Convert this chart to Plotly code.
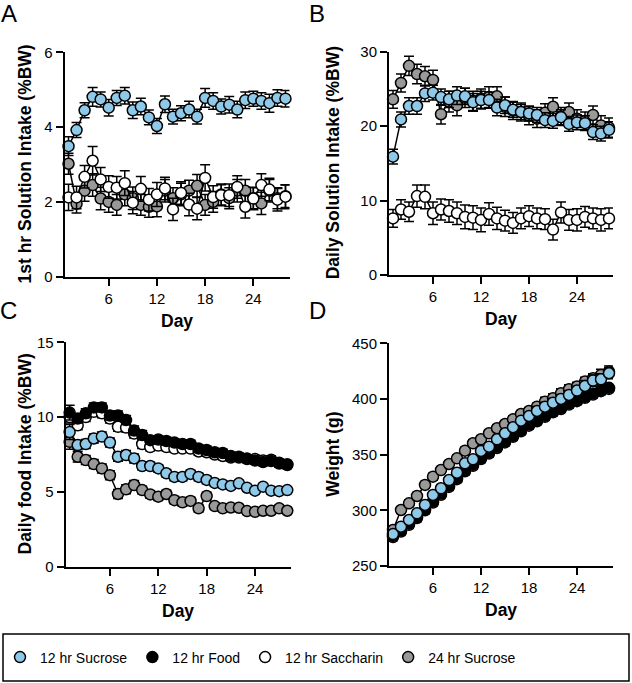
import plotly.graph_objects as go

W, H = 632, 683

days = list(range(1, 29))
x_ticks = [6, 12, 18, 24]

series_names = ["12 hr Sucrose", "12 hr Food", "12 hr Saccharin", "24 hr Sucrose"]
series_colors = {"12 hr Sucrose": "#8EC9E9", "12 hr Food": "#000000",
                 "12 hr Saccharin": "#FFFFFF", "24 hr Sucrose": "#999999"}

# Panel A: 1st hr solution intake (%BW)
a_sucrose12 = [3.49, 3.92, 4.45, 4.81, 4.74, 4.52, 4.78, 4.84, 4.45, 4.55, 4.26, 4.03, 4.61, 4.28,
               4.37, 4.47, 4.28, 4.78, 4.70, 4.55, 4.60, 4.47, 4.72, 4.76, 4.70, 4.64, 4.78, 4.76]
a_sucrose12_err = [0.25, 0.2, 0.2, 0.25, 0.2, 0.22, 0.2, 0.22, 0.22, 0.22, 0.2, 0.2, 0.22, 0.2,
                   0.2, 0.22, 0.2, 0.25, 0.22, 0.2, 0.22, 0.22, 0.22, 0.2, 0.22, 0.24, 0.22, 0.22]
a_saccharin12 = [2.12, 2.12, 2.67, 3.10, 2.60, 2.40, 2.38, 2.50, 1.98, 2.35, 2.06, 2.20, 2.36, 1.80,
                 2.24, 1.93, 1.82, 2.64, 2.13, 2.18, 2.18, 2.40, 1.87, 2.09, 2.45, 2.33, 2.06, 2.14]
a_saccharin12_err = [0.35, 0.3, 0.3, 0.38, 0.32, 0.3, 0.3, 0.33, 0.3, 0.33, 0.3, 0.32, 0.3, 0.3,
                     0.3, 0.3, 0.3, 0.35, 0.3, 0.28, 0.3, 0.3, 0.3, 0.3, 0.3, 0.3, 0.3, 0.32]
a_sucrose24 = [3.02, 1.95, 2.30, 2.45, 2.09, 2.00, 1.92, 2.20, 2.10, 1.92, 1.87, 1.88, 2.30, 2.10,
               2.20, 2.30, 2.43, 1.92, 2.00, 2.20, 2.10, 2.30, 2.30, 2.10, 1.96, 2.30, 2.10, 2.15]
a_sucrose24_err = [0.28, 0.25, 0.28, 0.3, 0.3, 0.28, 0.28, 0.3, 0.3, 0.28, 0.28, 0.28, 0.3, 0.28,
                   0.3, 0.28, 0.3, 0.28, 0.28, 0.28, 0.28, 0.3, 0.3, 0.28, 0.3, 0.3, 0.28, 0.3]

# Panel B: daily solution intake (%BW)
b_sucrose12 = [15.9, 20.9, 22.7, 22.7, 24.4, 24.5, 23.9, 23.6, 24.1, 24.0, 23.2, 23.5, 23.5, 22.5,
               22.8, 22.2, 21.9, 21.7, 21.5, 20.8, 20.7, 21.2, 20.3, 20.5, 20.4, 19.2, 19.0, 19.5]
b_sucrose12_err = [1.0, 1.0, 1.1, 1.1, 1.1, 1.0, 1.1, 1.1, 1.2, 1.1, 1.2, 1.2, 1.1, 1.1,
                   1.1, 1.0, 1.0, 1.0, 1.0, 1.0, 1.0, 1.0, 1.0, 1.0, 1.0, 1.0, 1.0, 1.1]
b_sucrose24 = [23.6, 25.8, 28.1, 27.0, 26.7, 26.2, 21.6, 23.3, 22.8, 23.8, 23.4, 23.7, 23.9, 24.0,
               22.6, 22.1, 21.9, 21.4, 21.0, 21.8, 22.6, 21.3, 21.9, 21.0, 20.7, 21.5, 20.1, 19.8]
b_sucrose24_err = [1.2, 1.2, 1.3, 1.3, 1.3, 1.3, 1.3, 1.4, 1.4, 1.3, 1.3, 1.3, 1.4, 1.3,
                   1.3, 1.2, 1.2, 1.2, 1.2, 1.2, 1.2, 1.2, 1.2, 1.2, 1.2, 1.2, 1.3, 1.3]
b_saccharin12 = [7.6, 8.8, 8.5, 10.6, 10.5, 8.3, 8.8, 8.6, 8.3, 7.8, 7.7, 7.4, 8.2, 7.6,
                 7.3, 7.0, 7.6, 7.9, 7.6, 7.5, 6.1, 8.4, 7.4, 7.4, 7.8, 7.6, 7.4, 7.6]
b_saccharin12_err = [1.2, 1.3, 1.3, 1.5, 1.6, 1.5, 1.4, 1.5, 1.5, 1.6, 1.6, 1.6, 1.5, 1.5,
                     1.4, 1.4, 1.4, 1.4, 1.4, 1.4, 1.4, 1.4, 1.4, 1.5, 1.4, 1.4, 1.5, 1.4]

# Panel C: daily food intake (%BW)
c_food12 = [10.3, 9.9, 10.25, 10.65, 10.65, 10.1, 10.1, 9.8, 9.1, 8.8, 8.46, 8.5, 8.4, 8.3,
            8.2, 8.2, 7.9, 7.8, 7.65, 7.6, 7.4, 7.35, 7.24, 7.1, 7.0, 7.06, 6.9, 6.8]
c_food12_err = [0.5, 0.3, 0.3, 0.3, 0.3, 0.3, 0.3, 0.3, 0.3, 0.3, 0.25, 0.25, 0.25, 0.25,
                0.25, 0.25, 0.25, 0.25, 0.25, 0.25, 0.25, 0.25, 0.25, 0.25, 0.25, 0.25, 0.25, 0.25]
c_saccharin12 = [10.0, 9.45, 10.0, 10.35, 10.25, 9.9, 9.35, 9.3, 8.9, 8.2, 8.0, 8.1, 8.0, 7.9,
                 7.9, 7.9, 7.7, 7.65, 7.5, 7.4, 7.3, 7.3, 7.2, 7.2, 7.1, 7.15, 6.95, 6.85]
c_saccharin12_err = [0.4, 0.3, 0.3, 0.3, 0.3, 0.3, 0.3, 0.3, 0.3, 0.3, 0.25, 0.25, 0.25, 0.25,
                     0.25, 0.25, 0.25, 0.25, 0.25, 0.25, 0.25, 0.25, 0.25, 0.25, 0.25, 0.25, 0.25, 0.25]
c_sucrose12 = [9.0, 8.13, 8.2, 8.57, 8.7, 8.3, 7.35, 7.46, 7.24, 6.73, 6.73, 6.57, 6.24, 6.0,
               6.0, 6.2, 6.0, 5.8, 5.6, 5.5, 5.4, 5.57, 5.28, 5.08, 5.35, 5.08, 5.05, 5.12]
c_sucrose12_err = [0.5, 0.3, 0.3, 0.3, 0.3, 0.3, 0.3, 0.3, 0.3, 0.25, 0.25, 0.25, 0.25, 0.25,
                   0.25, 0.25, 0.25, 0.25, 0.2, 0.2, 0.2, 0.2, 0.2, 0.2, 0.2, 0.2, 0.2, 0.2]
c_sucrose24 = [8.35, 7.35, 7.13, 6.86, 6.57, 6.12, 4.86, 5.17, 5.46, 5.12, 4.83, 4.68, 4.86, 4.45,
               4.3, 4.4, 3.9, 4.72, 4.05, 3.9, 3.96, 3.94, 3.72, 3.67, 3.74, 3.74, 3.9, 3.74]
c_sucrose24_err = [0.5, 0.35, 0.3, 0.3, 0.3, 0.3, 0.3, 0.3, 0.3, 0.25, 0.25, 0.25, 0.25, 0.25,
                   0.25, 0.25, 0.25, 0.25, 0.2, 0.2, 0.2, 0.2, 0.2, 0.2, 0.2, 0.2, 0.2, 0.2]

# Panel D: weight (g)
d_sucrose12 = [278.7, 285.3, 291.3, 297.3, 304.8, 313.8, 319.8, 327.2, 333.8, 342.2, 345.8, 353.3,
               357.2, 363.8, 369.2, 374.6, 380.5, 384.7, 389.2, 393.1, 396.7, 400.0, 403.6, 407.5,
               411.7, 416.5, 417.7, 423.1]
d_sucrose12_err = [3, 3, 3, 3, 3, 3, 3, 3, 3, 3, 3, 3, 3, 3, 3, 3, 3, 3, 4, 4, 4, 4, 4, 4, 5, 5, 5, 5]
d_sucrose24 = [282.3, 300.3, 306.3, 312.9, 322.8, 330.2, 336.2, 341.6, 346.7, 353.6, 360.2, 363.8,
               369.2, 373.7, 377.5, 381.7, 386.5, 389.2, 393.1, 397.6, 400.6, 405.1, 408.7, 411.1,
               415.6, 418.6, 421.6, 424.6]
d_sucrose24_err = [3, 3, 3, 3, 3, 3, 3, 3, 3, 3, 3, 3, 3, 3, 3, 3, 3, 3, 3, 4, 4, 4, 4, 4, 4, 4, 5, 5]
d_food12 = [277, 282, 288, 294, 301, 308, 315, 322, 329, 336, 341, 347, 352, 357,
            362, 367, 372, 377, 381, 385, 389, 392, 396, 399, 402, 405, 408, 410]
d_food12_err = [3, 3, 3, 3, 3, 3, 3, 3, 3, 3, 3, 3, 3, 3, 3, 3, 3, 3, 3, 3, 3, 3, 3, 3, 3, 3, 3, 3]
d_saccharin12 = [276, 281, 287, 293, 300, 307, 314, 321, 328, 335, 340, 346, 351, 356,
                 361, 366, 371, 376, 380, 384, 388, 391, 395, 398, 401, 404, 407, 409]
d_saccharin12_err = [3, 3, 3, 3, 3, 3, 3, 3, 3, 3, 3, 3, 3, 3, 3, 3, 3, 3, 3, 3, 3, 3, 3, 3, 3, 3, 3, 3]

FONT = "Liberation Sans, Arial, Helvetica, sans-serif"


def px_x(a, b):
    return [a / W, b / W]


def px_y(top, bottom):
    return [1 - bottom / H, 1 - top / H]


panels = {
    "A": dict(xd=px_x(64.5, 289.5), yd=px_y(52.3, 276.7), yr=[0, 6], yt=[0, 2, 4, 6],
              title="1st hr Solution Intake (%BW)", title_x=24,
              series=[("24 hr Sucrose", a_sucrose24, a_sucrose24_err),
                      ("12 hr Saccharin", a_saccharin12, a_saccharin12_err),
                      ("12 hr Sucrose", a_sucrose12, a_sucrose12_err)]),
    "B": dict(xd=px_x(389, 613), yd=px_y(51.7, 275), yr=[0, 30], yt=[0, 10, 20, 30],
              title="Daily Solution Intake (%BW)", title_x=333,
              series=[("24 hr Sucrose", b_sucrose24, b_sucrose24_err),
                      ("12 hr Saccharin", b_saccharin12, b_saccharin12_err),
                      ("12 hr Sucrose", b_sucrose12, b_sucrose12_err)]),
    "C": dict(xd=px_x(65.6, 291.3), yd=px_y(342.3, 566.7), yr=[0, 15], yt=[0, 5, 10, 15],
              title="Daily food Intake (%BW)", title_x=24,
              series=[("24 hr Sucrose", c_sucrose24, c_sucrose24_err),
                      ("12 hr Saccharin", c_saccharin12, c_saccharin12_err),
                      ("12 hr Food", c_food12, c_food12_err),
                      ("12 hr Sucrose", c_sucrose12, c_sucrose12_err)]),
    "D": dict(xd=px_x(389, 613), yd=px_y(343.3, 566), yr=[250, 450], yt=[250, 300, 350, 400, 450],
              title="Weight (g)", title_x=333,
              series=[("24 hr Sucrose", d_sucrose24, d_sucrose24_err),
                      ("12 hr Saccharin", d_saccharin12, d_saccharin12_err),
                      ("12 hr Food", d_food12, d_food12_err),
                      ("12 hr Sucrose", d_sucrose12, d_sucrose12_err)]),
}
# top-left of panel letter text boxes (px)
letter_pos = {"A": (-1, -2), "B": (307, -2), "C": (-2, 295), "D": (307, 295)}

fig = go.Figure()
layout = dict(width=W, height=H, margin=dict(l=0, r=0, t=0, b=0, autoexpand=False),
              paper_bgcolor="white", plot_bgcolor="white",
              font=dict(family=FONT, color="black", size=15),
              showlegend=True)
annotations = []

for i, (key, p) in enumerate(panels.items(), start=1):
    xa = "xaxis" if i == 1 else f"xaxis{i}"
    ya = "yaxis" if i == 1 else f"yaxis{i}"
    xr = "x" if i == 1 else f"x{i}"
    yr = "y" if i == 1 else f"y{i}"
    axis_common = dict(showline=True, linecolor="black", linewidth=2, ticks="outside",
                       ticklen=7, tickwidth=2, tickcolor="black", showgrid=False,
                       zeroline=False, automargin=False,
                       tickfont=dict(size=15, family=FONT, color="black"))
    layout[xa] = dict(domain=p["xd"], range=[0.5, 28.5], tickvals=x_ticks, anchor=yr,
                      **axis_common)
    layout[ya] = dict(domain=p["yd"], range=p["yr"], tickvals=p["yt"], anchor=xr,
                      **axis_common)
    for name, vals, errs in p["series"]:
        fig.add_trace(go.Scatter(
            x=days, y=vals, xaxis=xr, yaxis=yr, mode="lines+markers", name=name,
            showlegend=False, cliponaxis=False,
            line=dict(color="black", width=1.5),
            marker=dict(size=11, color=series_colors[name], line=dict(color="black", width=1.5)),
            error_y=dict(type="data", array=errs, visible=True, color="black",
                         thickness=1.5, width=5),
        ))
    # y-axis title
    ymid = (p["yd"][0] + p["yd"][1]) / 2
    annotations.append(dict(text=f"<b>{p['title']}</b>", x=p["title_x"] / W, y=ymid,
                            xref="paper", yref="paper", textangle=-90, showarrow=False,
                            xanchor="center", yanchor="middle",
                            font=dict(size=17.5, family=FONT, color="black")))
    # x-axis title
    xmid = (p["xd"][0] + p["xd"][1]) / 2
    ybottom_px = (1 - p["yd"][0]) * H
    annotations.append(dict(text="<b>Day</b>", x=xmid, y=1 - (ybottom_px + 44) / H,
                            xref="paper", yref="paper", showarrow=False,
                            xanchor="center", yanchor="middle",
                            font=dict(size=17.5, family=FONT, color="black")))
    lx, ly = letter_pos[key]
    annotations.append(dict(text=key, x=lx / W, y=1 - ly / H, xref="paper", yref="paper",
                            showarrow=False, xanchor="left", yanchor="top",
                            font=dict(size=24, family=FONT, color="black")))

# legend-only entries
for name in series_names:
    fig.add_trace(go.Scatter(
        x=[None], y=[None], mode="markers", name=name, showlegend=True,
        marker=dict(size=11, color=series_colors[name], line=dict(color="black", width=1.5)),
    ))

layout["annotations"] = annotations
layout["shapes"] = [dict(type="rect", xref="paper", yref="paper",
                         x0=3 / W, x1=629 / W, y0=1 - 681 / H, y1=1 - 634 / H,
                         line=dict(color="black", width=1.5), fillcolor="rgba(0,0,0,0)")]
layout["legend"] = dict(orientation="h", x=0, xanchor="left", y=1 - 657.5 / H,
                        yanchor="middle", bgcolor="rgba(0,0,0,0)", borderwidth=0,
                        font=dict(size=14, family=FONT, color="black"),
                        itemwidth=30, traceorder="normal")
fig.update_layout(**layout)

fig.write_html("out.html", config={"displayModeBar": False},
               post_script="document.body.style.margin='0';document.body.style.padding='0';")
